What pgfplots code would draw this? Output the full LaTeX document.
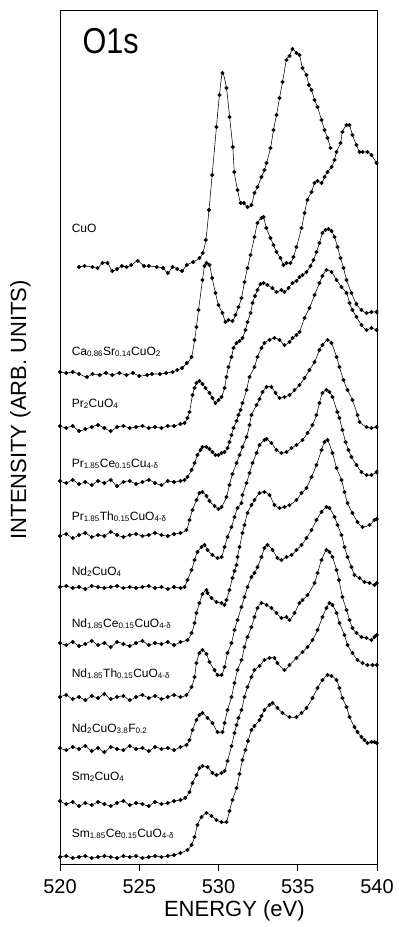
\documentclass[border=0pt]{standalone}
\usepackage{fontspec}
\setmainfont{Liberation Sans}
\usepackage{graphicx}
\usepackage{pgfplots}
\pgfplotsset{compat=1.18}
\pgfplotsset{spec/.style={black, line width=0.55pt, smooth, mark=*, mark size=1.75pt, mark options={fill=black, draw=black, solid}}}
\begin{document}
\begin{tikzpicture}
\path[use as bounding box] (-60pt,-63pt) rectangle (339pt,864pt);
\begin{axis}[
  at={(0pt,0pt)}, anchor=south west,
  width=317pt, height=854pt, scale only axis,
  xmin=520, xmax=540, ymin=10, ymax=864, y dir=reverse,
  xtick={520,525,530,535,540}, ytick=\empty,
  xtick pos=bottom, xtick align=outside, major tick length=7pt,
  /pgf/number format/assume math mode=true,
  /pgf/number format/1000 sep={},
  xticklabel style={font=\fontsize{20}{24}\selectfont, anchor=base, yshift=-22pt},
  axis line style={line width=0.8pt},
  tick style={line width=0.8pt, black},
  xlabel={ENERGY (eV)},
  xlabel style={font=\fontsize{22}{26}\selectfont, at={(axis description cs:0.55,0)}, anchor=base, yshift=-52pt},
  ylabel={INTENSITY (ARB. UNITS)},
  every axis y label/.style={at={(axis description cs:-0.125,0.532)}, rotate=90, anchor=center, font=\fontsize{22}{26}\selectfont},
]
% CuO
\addplot[spec] coordinates {(521.2,267)(521.55,266)(522.05,267)(522.37,268)(522.68,263)(523.0,263)(523.3,271)(523.6,269)(523.9,266)(524.2,267)(524.5,265)(524.9,261)(525.3,266)(525.6,266)(526.1,267)(526.5,268)(526.8,273)(527.1,267)(527.4,269)(527.7,271)(528.0,265)(528.4,262)(528.8,258)(529.0,253)(529.2,240)(529.4,210)(529.6,175)(529.87,127)(530.06,95)(530.25,73)(530.5,88)(530.7,117)(530.9,147)(531.0,172)(531.2,190)(531.4,203)(531.6,203)(531.83,207)(532.08,205)(532.27,193)(532.46,187)(532.71,177)(532.9,170)(533.03,163)(533.28,148)(533.47,130)(533.66,115)(533.85,98)(534.04,82)(534.29,60)(534.48,56)(534.67,49)(534.92,53)(535.11,55)(535.3,68)(535.55,75)(535.7,85)(535.87,90)(536.06,100)(536.25,107)(536.5,120)(536.69,130)(536.88,138)(537.07,148)};
% Ca0.86Sr0.14CuO2
\addplot[spec] coordinates {(520.0,372)(520.4,373)(520.8,372)(521.2,374)(521.7,377)(522.05,374)(522.5,375)(522.9,373)(523.3,375)(523.75,373)(524.2,375)(524.6,373)(525.0,376)(525.5,375)(525.8,374)(526.3,374)(526.7,373)(527.1,372)(527.4,370)(527.7,368)(528.0,363)(528.3,357)(528.49,340)(528.61,327)(528.74,310)(528.99,280)(529.12,266)(529.25,263)(529.43,265)(529.6,278)(529.81,293)(530.0,305)(530.25,313)(530.44,322)(530.63,320)(530.88,321)(531.07,315)(531.26,307)(531.45,298)(531.64,282)(531.83,268)(532.02,255)(532.27,237)(532.46,223)(532.71,218)(532.84,217)(533.02,228)(533.28,238)(533.47,245)(533.66,252)(533.91,258)(534.1,265)(534.29,263)(534.54,263)(534.73,257)(534.92,247)(535.24,228)(535.43,213)(535.61,200)(535.87,192)(536.06,183)(536.25,181)(536.5,183)(536.69,177)(536.88,172)(537.13,167)(537.32,160)(537.44,152)(537.7,143)(537.82,132)(538.07,125)(538.26,125)(538.45,135)(538.7,145)(538.9,152)(539.09,152)(539.4,152)(539.65,155)(539.97,163)};
% Pr2CuO4
\addplot[spec] coordinates {(520.0,426)(520.4,428)(520.8,426)(521.2,431)(521.6,429)(522.0,427)(522.4,425)(522.8,428)(523.2,431)(523.6,427)(524.0,426)(524.4,428)(524.8,427)(525.2,426)(525.6,428)(526.0,427)(526.4,428)(526.8,426)(527.2,426)(527.6,424)(527.86,423)(528.04,418)(528.17,412)(528.36,395)(528.49,388)(528.61,383)(528.8,381)(528.99,384)(529.18,388)(529.43,393)(529.62,398)(529.81,403)(530.0,400)(530.19,397)(530.38,388)(530.5,377)(530.63,367)(530.82,357)(530.95,348)(531.14,343)(531.33,341)(531.51,338)(531.7,330)(531.83,322)(532.02,313)(532.15,303)(532.3,296)(532.46,290)(532.65,284)(532.84,283)(533.09,285)(533.4,288)(533.66,292)(533.97,290)(534.16,292)(534.42,288)(534.67,283)(534.92,281)(535.11,277)(535.3,275)(535.55,272)(535.8,266)(535.99,260)(536.18,252)(536.37,243)(536.56,233)(536.75,230)(536.94,229)(537.13,231)(537.32,237)(537.51,247)(537.7,258)(537.89,268)(538.08,280)(538.39,293)(538.7,304)(539.02,310)(539.34,313)(539.65,312)(539.97,312)};
% Pr1.85Ce0.15Cu4-d
\addplot[spec] coordinates {(520.0,481)(520.4,483)(520.8,480)(521.2,484)(521.6,482)(522.0,485)(522.4,481)(522.8,483)(523.2,480)(523.6,486)(524.0,482)(524.4,481)(524.8,484)(525.2,482)(525.6,480)(526.0,483)(526.4,485)(526.8,481)(527.2,482)(527.6,481)(527.86,480)(528.04,477)(528.3,470)(528.49,463)(528.67,455)(528.86,450)(528.99,447)(529.24,447)(529.43,449)(529.62,452)(529.81,455)(530.0,455)(530.19,453)(530.38,452)(530.57,448)(530.69,442)(530.82,435)(530.95,428)(531.14,421)(531.26,415)(531.39,410)(531.51,403)(531.77,390)(531.96,377)(532.27,367)(532.46,357)(532.71,348)(532.9,343)(533.22,340)(533.53,338)(533.85,340)(534.16,345)(534.48,342)(534.67,338)(534.92,335)(535.11,332)(535.43,318)(535.74,308)(536.06,295)(536.37,283)(536.56,276)(536.81,270)(537.13,272)(537.45,280)(537.76,287)(538.08,293)(538.27,303)(538.45,310)(538.71,317)(539.02,325)(539.34,330)(539.65,328)(539.97,330)};
% Pr1.85Th0.15CuO4-d
\addplot[spec] coordinates {(520.0,536)(520.4,534)(520.8,538)(521.2,535)(521.6,533)(522.0,537)(522.4,535)(522.8,536)(523.2,532)(523.6,535)(524.0,537)(524.4,535)(524.8,534)(525.2,536)(525.6,535)(526.0,533)(526.4,535)(526.8,536)(527.2,534)(527.6,533)(527.98,530)(528.17,520)(528.36,510)(528.61,500)(528.8,493)(528.99,492)(529.24,496)(529.43,501)(529.75,506)(530.0,509)(530.19,507)(530.5,497)(530.69,485)(530.88,474)(531.14,463)(531.33,455)(531.51,447)(531.77,437)(531.96,425)(532.08,415)(532.4,405)(532.59,399)(532.78,392)(533.03,387)(533.34,387)(533.6,393)(533.85,398)(534.16,397)(534.48,395)(534.8,390)(535.11,385)(535.43,378)(535.74,370)(536.06,362)(536.37,350)(536.56,345)(536.88,340)(537.13,343)(537.45,357)(537.63,367)(537.89,380)(538.14,390)(538.45,400)(538.77,415)(538.9,422)(539.34,427)(539.65,428)(539.97,427)};
% Nd2CuO4
\addplot[spec] coordinates {(520.0,587)(520.4,586)(520.8,588)(521.2,587)(521.6,589)(522.0,586)(522.4,587)(522.8,588)(523.2,587)(523.6,586)(524.0,588)(524.4,587)(524.8,588)(525.2,587)(525.6,586)(526.0,588)(526.4,587)(526.8,589)(527.2,587)(527.6,588)(527.86,587)(528.04,580)(528.3,570)(528.49,560)(528.67,552)(528.93,547)(529.12,545)(529.31,550)(529.62,555)(529.94,558)(530.19,557)(530.38,547)(530.57,537)(530.82,527)(531.01,517)(531.2,508)(531.45,503)(531.51,495)(531.77,483)(531.96,473)(532.15,463)(532.4,453)(532.59,445)(532.9,440)(533.03,439)(533.34,443)(533.66,450)(533.97,453)(534.29,452)(534.61,448)(534.92,445)(535.3,440)(535.62,433)(535.93,425)(536.18,415)(536.37,403)(536.56,393)(536.81,390)(537.0,392)(537.19,397)(537.5,412)(537.63,418)(537.82,430)(538.02,442)(538.2,450)(538.39,457)(538.71,465)(539.02,472)(539.34,475)(539.65,475)(539.97,472)};
% Nd1.85Ce0.15CuO4-d
\addplot[spec] coordinates {(520.0,643)(520.4,645)(520.8,642)(521.2,646)(521.6,644)(522.0,641)(522.4,645)(522.8,643)(523.2,647)(523.6,642)(524.0,644)(524.4,646)(524.8,643)(525.2,641)(525.6,645)(526.0,643)(526.4,644)(526.8,642)(527.2,645)(527.6,642)(528.04,640)(528.3,633)(528.49,623)(528.61,613)(528.8,603)(528.99,594)(529.24,590)(529.31,593)(529.56,598)(529.87,602)(530.19,603)(530.38,605)(530.5,600)(530.69,590)(530.88,578)(531.01,571)(531.14,565)(531.2,557)(531.33,547)(531.51,533)(531.64,525)(531.83,513)(532.08,505)(532.27,500)(532.59,493)(532.9,492)(533.22,495)(533.53,505)(533.85,508)(534.16,507)(534.48,505)(534.92,500)(535.24,493)(535.55,488)(535.87,477)(536.18,465)(536.5,450)(536.69,442)(536.88,440)(537.19,453)(537.45,468)(537.76,480)(537.95,492)(538.14,503)(538.45,513)(538.77,522)(539.09,527)(539.53,525)(539.84,520)(539.99,519)};
% Nd1.85Th0.15CuO4-d
\addplot[spec] coordinates {(520.0,697)(520.4,695)(520.8,699)(521.2,697)(521.6,700)(522.0,696)(522.4,698)(522.8,694)(523.2,699)(523.6,697)(524.0,696)(524.4,700)(524.8,697)(525.2,695)(525.6,698)(526.0,696)(526.4,699)(526.8,697)(527.2,695)(527.6,697)(527.98,695)(528.3,687)(528.49,677)(528.61,663)(528.8,653)(528.99,650)(529.24,654)(529.43,662)(529.75,670)(529.94,675)(530.19,675)(530.38,667)(530.57,653)(530.82,643)(531.01,630)(531.2,620)(531.45,607)(531.64,597)(531.83,587)(532.08,577)(532.27,573)(532.46,567)(532.71,557)(532.9,548)(533.09,545)(533.41,550)(533.72,558)(533.97,560)(534.29,557)(534.61,555)(534.92,550)(535.24,545)(535.55,538)(535.87,530)(536.18,520)(536.5,512)(536.81,507)(537.0,508)(537.32,517)(537.51,525)(537.76,535)(537.95,547)(538.14,557)(538.39,567)(538.58,575)(538.9,578)(539.21,582)(539.53,583)(539.84,585)(539.99,583)};
% Nd2CuO3.8F0.2
\addplot[spec] coordinates {(520.0,748)(520.4,750)(520.8,747)(521.2,749)(521.6,746)(522.0,751)(522.4,748)(522.8,752)(523.2,747)(523.6,749)(524.0,750)(524.4,746)(524.8,749)(525.2,748)(525.6,751)(526.0,747)(526.4,749)(526.8,748)(527.2,750)(527.6,747)(527.98,745)(528.17,740)(528.36,730)(528.61,720)(528.8,715)(528.99,713)(529.31,718)(529.62,723)(529.94,732)(530.25,732)(530.38,723)(530.57,710)(530.82,697)(531.01,683)(531.2,670)(531.45,660)(531.64,647)(531.83,637)(532.08,627)(532.27,617)(532.46,608)(532.71,603)(533.03,605)(533.34,608)(533.66,613)(533.97,618)(534.29,617)(534.48,620)(534.8,613)(535.11,603)(535.3,600)(535.62,595)(536.06,583)(536.25,573)(536.5,560)(536.81,550)(537.0,552)(537.19,557)(537.45,570)(537.6,580)(537.82,597)(538.08,610)(538.27,620)(538.45,628)(538.71,633)(539.02,637)(539.34,638)(539.65,640)(539.84,637)(539.99,635)};
% Sm2CuO4
\addplot[spec] coordinates {(520.0,801)(520.4,804)(520.8,802)(521.2,806)(521.6,803)(522.0,805)(522.4,802)(522.8,804)(523.2,806)(523.6,803)(524.0,801)(524.4,805)(524.8,803)(525.2,804)(525.6,806)(526.0,802)(526.4,804)(526.8,803)(527.2,801)(527.6,800)(527.9,798)(528.17,792)(528.36,783)(528.61,775)(528.8,768)(528.99,766)(529.31,767)(529.62,773)(529.87,775)(530.19,773)(530.38,771)(530.57,761)(530.82,746)(531.01,733)(531.14,725)(531.26,718)(531.45,710)(531.64,697)(531.83,687)(532.08,677)(532.27,670)(532.59,666)(532.9,660)(533.22,658)(533.53,658)(533.72,663)(534.16,670)(534.48,665)(534.92,658)(535.3,652)(535.62,647)(535.93,640)(536.25,630)(536.56,617)(536.81,608)(537.0,603)(537.19,605)(537.45,613)(537.63,623)(537.95,635)(538.14,645)(538.45,653)(538.77,660)(539.09,663)(539.4,665)(539.72,665)(539.99,665)};
% Sm1.85Ce0.15CuO4-d
\addplot[spec] coordinates {(520.0,857)(520.4,856)(520.8,858)(521.2,857)(521.6,856)(522.0,858)(522.4,857)(522.8,856)(523.2,857)(523.6,858)(524.0,856)(524.4,857)(524.8,856)(525.2,858)(525.6,857)(526.0,856)(526.4,857)(526.8,856)(527.2,855)(527.6,853)(528.04,850)(528.3,845)(528.49,837)(528.67,825)(528.93,817)(529.24,813)(529.56,816)(529.87,820)(530.19,822)(530.5,822)(530.69,811)(530.88,800)(531.14,788)(531.33,774)(531.51,760)(531.7,750)(531.86,741)(532.08,730)(532.27,726)(532.59,720)(532.71,716)(532.9,710)(533.22,705)(533.41,703)(533.72,708)(534.04,713)(534.48,717)(534.92,717)(535.24,713)(535.55,708)(535.93,698)(536.25,688)(536.56,680)(536.88,675)(537.13,676)(537.45,680)(537.63,688)(537.82,698)(538.08,707)(538.27,717)(538.58,727)(538.77,732)(539.02,737)(539.21,740)(539.4,743)(539.65,742)(539.84,742)(539.99,743)};
% labels
\node[anchor=base west, font=\fontsize{36}{40}\selectfont] at (axis cs:521.2,53) {\scalebox{0.85}[1]{O1s}};
\begin{scope}[every node/.style={anchor=base west, font=\fontsize{12}{14}\selectfont, inner sep=0pt}]
\node at (axis cs:520.73,232) {CuO};
\node at (axis cs:520.73,355) {Ca\textsubscript{0.86}Sr\textsubscript{0.14}CuO\textsubscript{2}};
\node at (axis cs:520.73,407) {Pr\textsubscript{2}CuO\textsubscript{4}};
\node at (axis cs:520.73,467) {Pr\textsubscript{1.85}Ce\textsubscript{0.15}Cu\textsubscript{4-δ}};
\node at (axis cs:520.73,520) {Pr\textsubscript{1.85}Th\textsubscript{0.15}CuO\textsubscript{4-δ}};
\node at (axis cs:520.73,575) {Nd\textsubscript{2}CuO\textsubscript{4}};
\node at (axis cs:520.73,627) {Nd\textsubscript{1.85}Ce\textsubscript{0.15}CuO\textsubscript{4-δ}};
\node at (axis cs:520.73,677) {Nd\textsubscript{1.85}Th\textsubscript{0.15}CuO\textsubscript{4-δ}};
\node at (axis cs:520.73,732) {Nd\textsubscript{2}CuO\textsubscript{3.8}F\textsubscript{0.2}};
\node at (axis cs:520.73,780) {Sm\textsubscript{2}CuO\textsubscript{4}};
\node at (axis cs:520.73,837) {Sm\textsubscript{1.85}Ce\textsubscript{0.15}CuO\textsubscript{4-δ}};
\end{scope}
\end{axis}
\end{tikzpicture}
\end{document}
